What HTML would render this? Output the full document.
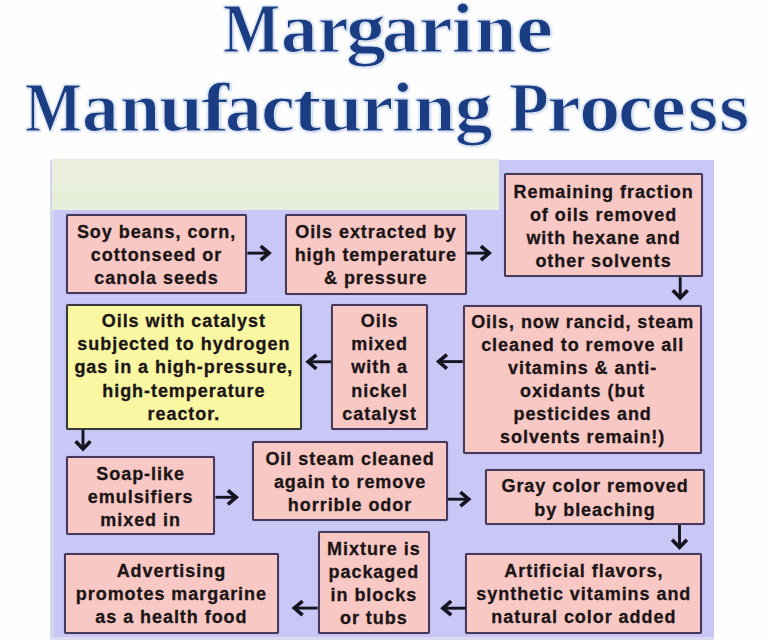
<!DOCTYPE html>
<html><head><meta charset="utf-8">
<style>
html,body{margin:0;padding:0;}
body{width:768px;height:640px;position:relative;overflow:hidden;background:#fefefe;}
.g{position:absolute;transform-origin:0 0;font-family:"Liberation Serif",serif;font-weight:bold;font-size:69.5px;color:#1b3d84;-webkit-text-stroke:1.2px #dfe7f3;white-space:nowrap;line-height:100px;text-shadow:0 0 2.5px rgba(160,190,230,.6),1px 1px 2px rgba(120,150,200,.35);}
#bg{position:absolute;left:50px;top:160px;width:664px;height:477px;background:#c9c7f5;}
#bgl{position:absolute;left:50px;top:160px;width:4px;height:480px;background:#d6d5ee;}
#bgb{position:absolute;left:50px;top:637px;width:664px;height:3px;background:#dddbf1;}
#gr{position:absolute;left:52px;top:159px;width:446.5px;height:50.5px;background:linear-gradient(#e8ecdc,#eaefdd 30%,#e5eed7 85%,#e8efe0);}
.b{position:absolute;box-sizing:border-box;border:2px solid #45385a;border-radius:2px;box-shadow:0 0 1px rgba(70,60,90,.5);background:#f8c8c4;}
.b.y{background:#f9f7a2;border-color:#3a3838;}
.x{position:absolute;font-family:"Liberation Sans",sans-serif;font-weight:bold;font-size:18px;letter-spacing:.95px;color:#1c1517;-webkit-text-stroke:.3px #1c1517;text-align:center;white-space:nowrap;}
svg{position:absolute;left:0;top:0;}
.s{fill:none;stroke:#16141f;stroke-width:2.9;}
.h{fill:none;stroke:#16141f;stroke-width:3.6;stroke-linejoin:miter;}
</style></head><body>
<span class="g" style="left:223.16px;top:-21.46px;transform:scaleX(0.8705)">M</span>
<span class="g" style="left:281.06px;top:-21.46px;transform:scaleX(1.0467)">a</span>
<span class="g" style="left:317.63px;top:-21.46px;transform:scaleX(0.9852)">r</span>
<span class="g" style="left:346.11px;top:-21.46px;transform:scaleX(1.1438)">g</span>
<span class="g" style="left:381.97px;top:-21.46px;transform:scaleX(1.0767)">a</span>
<span class="g" style="left:418.83px;top:-21.46px;transform:scaleX(1.0852)">r</span>
<span class="g" style="left:451.60px;top:-21.46px;transform:scaleX(1.1000)">i</span>
<span class="g" style="left:475.16px;top:-21.46px;transform:scaleX(1.0714)">n</span>
<span class="g" style="left:515.80px;top:-21.46px;transform:scaleX(1.2000)">e</span>
<span class="g" style="left:25.27px;top:57.74px;transform:scaleX(0.8656)">M</span>
<span class="g" style="left:82.43px;top:57.74px;transform:scaleX(1.0567)">a</span>
<span class="g" style="left:119.93px;top:57.74px;transform:scaleX(1.0371)">n</span>
<span class="g" style="left:159.42px;top:57.74px;transform:scaleX(1.1382)">u</span>
<span class="g" style="left:201.47px;top:57.74px;transform:scaleX(1.2261)">f</span>
<span class="g" style="left:225.34px;top:57.74px;transform:scaleX(1.0533)">a</span>
<span class="g" style="left:261.10px;top:57.74px;transform:scaleX(1.1000)">c</span>
<span class="g" style="left:292.84px;top:57.74px;transform:scaleX(1.2300)">t</span>
<span class="g" style="left:319.81px;top:57.74px;transform:scaleX(1.0941)">u</span>
<span class="g" style="left:360.61px;top:57.74px;transform:scaleX(1.0444)">r</span>
<span class="g" style="left:392.20px;top:57.74px;transform:scaleX(1.1000)">i</span>
<span class="g" style="left:414.46px;top:57.74px;transform:scaleX(1.0714)">n</span>
<span class="g" style="left:455.44px;top:57.74px;transform:scaleX(1.0812)">g</span>
<span class="g" style="left:508.63px;top:57.74px;transform:scaleX(0.9368)">P</span>
<span class="g" style="left:547.43px;top:57.74px;transform:scaleX(1.0852)">r</span>
<span class="g" style="left:578.82px;top:57.74px;transform:scaleX(1.1931)">o</span>
<span class="g" style="left:618.12px;top:57.74px;transform:scaleX(1.1269)">c</span>
<span class="g" style="left:651.42px;top:57.74px;transform:scaleX(1.1269)">e</span>
<span class="g" style="left:687.77px;top:57.74px;transform:scaleX(1.1174)">s</span>
<span class="g" style="left:719.36px;top:57.74px;transform:scaleX(1.1217)">s</span>

<div id="bg"></div>
<div id="bgl"></div>
<div id="bgb"></div>
<div id="gr"></div>

<div class="b" style="left:65.7px;top:213.5px;width:181.7px;height:80.8px;"></div>
<div class="b" style="left:285px;top:213.6px;width:181.6px;height:81.0px;"></div>
<div class="b" style="left:504px;top:173.3px;width:199.1px;height:103.9px;"></div>
<div class="b y" style="left:66px;top:304px;width:235.7px;height:125.8px;"></div>
<div class="b" style="left:331px;top:303.6px;width:97.3px;height:126.4px;"></div>
<div class="b" style="left:462.8px;top:304.6px;width:239.7px;height:149.9px;"></div>
<div class="b" style="left:65.8px;top:456px;width:149.6px;height:79.2px;"></div>
<div class="b" style="left:252.3px;top:440.5px;width:195.5px;height:80.8px;"></div>
<div class="b" style="left:485.4px;top:468.7px;width:219.3px;height:56.3px;"></div>
<div class="b" style="left:64.2px;top:552.7px;width:214.4px;height:81.1px;"></div>
<div class="b" style="left:317.6px;top:531.4px;width:112.5px;height:102.4px;"></div>
<div class="b" style="left:465.2px;top:552.6px;width:237.3px;height:81.2px;"></div>

<div class="x" style="left:65.7px;width:181.7px;top:221px;line-height:22.8px;">Soy beans, corn,<br>cottonseed or<br>canola seeds</div>
<div class="x" style="left:285px;width:181.6px;top:221px;line-height:22.8px;">Oils extracted by<br>high temperature<br>&amp; pressure</div>
<div class="x" style="left:504px;width:199.1px;top:181px;line-height:23.0px;">Remaining fraction<br>of oils removed<br>with hexane and<br>other solvents</div>
<div class="x" style="left:66px;width:235.7px;top:310px;line-height:23.2px;">Oils with catalyst<br>subjected to hydrogen<br>gas in a high-pressure,<br>high-temperature<br>reactor.</div>
<div class="x" style="left:331px;width:97.3px;top:310px;line-height:23.2px;">Oils<br>mixed<br>with a<br>nickel<br>catalyst</div>
<div class="x" style="left:462.8px;width:239.7px;top:311px;line-height:23.1px;">Oils, now rancid, steam<br>cleaned to remove all<br>vitamins &amp; anti-<br>oxidants (but<br>pesticides and<br>solvents remain!)</div>
<div class="x" style="left:65.8px;width:149.6px;top:463px;line-height:22.8px;">Soap-like<br>emulsifiers<br>mixed in</div>
<div class="x" style="left:252.3px;width:195.5px;top:448px;line-height:22.8px;">Oil steam cleaned<br>again to remove<br>horrible odor</div>
<div class="x" style="left:485.4px;width:219.3px;top:475px;line-height:23.5px;">Gray color removed<br>by bleaching</div>
<div class="x" style="left:64.2px;width:214.4px;top:560px;line-height:22.8px;">Advertising<br>promotes margarine<br>as a health food</div>
<div class="x" style="left:317.6px;width:112.5px;top:538px;line-height:23.0px;">Mixture is<br>packaged<br>in blocks<br>or tubs</div>
<div class="x" style="left:465.2px;width:237.3px;top:560px;line-height:22.8px;">Artificial flavors,<br>synthetic vitamins and<br>natural color added</div>

<svg width="768" height="640" viewBox="0 0 768 640">
<path class="s" d="M247.4 253.1H267.5"/><path class="h" d="M260.7 246.1L269.0 253.1L260.7 260.1"/>
<path class="s" d="M466.6 253.1H487.7"/><path class="h" d="M480.9 246.1L489.2 253.1L480.9 260.1"/>
<path class="s" d="M680.2 277.2V296.5"/><path class="h" d="M672.8 290.3L680.2 298.0L687.6 290.3"/>
<path class="s" d="M462.8 361.6H440.1"/><path class="h" d="M446.9 354.6L438.6 361.6L446.9 368.6"/>
<path class="s" d="M331 361.8H309.6"/><path class="h" d="M316.4 354.8L308.1 361.8L316.4 368.8"/>
<path class="s" d="M83 429.8V447.4"/><path class="h" d="M75.6 441.2L83 448.9L90.4 441.2"/>
<path class="s" d="M215.4 497.3H234.7"/><path class="h" d="M227.9 490.3L236.2 497.3L227.9 504.3"/>
<path class="s" d="M447.8 499.2H467.2"/><path class="h" d="M460.4 492.2L468.7 499.2L460.4 506.2"/>
<path class="s" d="M679.5 525V545.9"/><path class="h" d="M672.1 539.7L679.5 547.4L686.9 539.7"/>
<path class="s" d="M465.2 608.2H444.4"/><path class="h" d="M451.2 601.2L442.9 608.2L451.2 615.2"/>
<path class="s" d="M317.6 608.1H295.8"/><path class="h" d="M302.6 601.1L294.3 608.1L302.6 615.1"/>
</svg>
</body></html>
